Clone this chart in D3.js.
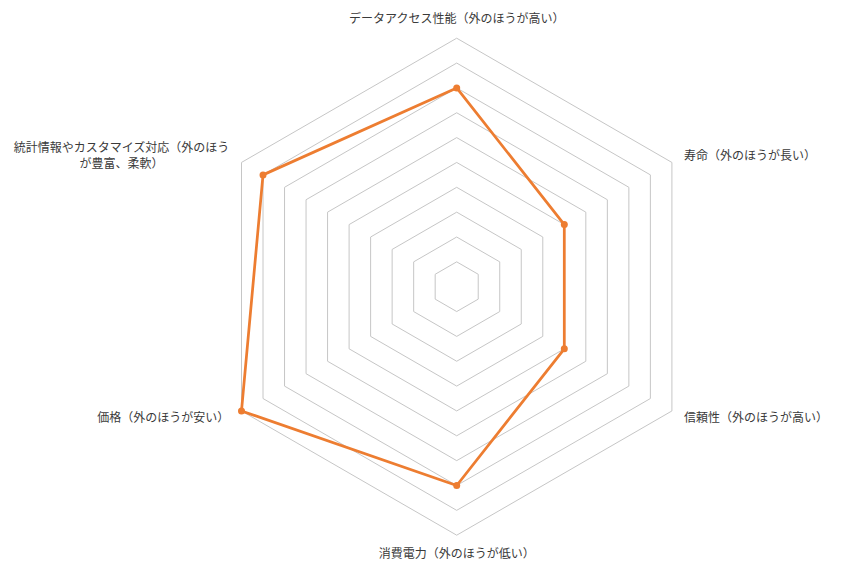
<!DOCTYPE html>
<html>
<head>
<meta charset="utf-8">
<script src="https://cdn.jsdelivr.net/npm/d3@7"></script>
<style>
  body { margin: 0; background: #fff; }
  svg { display: block; }
  text { font-family: "Noto Sans CJK JP", "Noto Sans", sans-serif; font-size: 12px; fill: #3a3a3a; }
</style>
</head>
<body>
<svg id="canvas" width="847" height="575"></svg>
<script>
// axes of the radar, clockwise from the top
let categories = [
  'データアクセス性能（外のほうが高い）',
  '寿命（外のほうが長い）',
  '信頼性（外のほうが高い）',
  '消費電力（外のほうが低い）',
  '価格（外のほうが安い）',
  '統計情報やカスタマイズ対応（外のほうが豊富、柔軟）'
]
let values = [8, 5, 5, 8, 10, 9]
let gridLevels = [1, 2, 3, 4, 5, 6, 7, 8, 9, 10]
let maxValue = 10

let canvas = d3.select('#canvas')

let cx = 456.7
let cy = 286.7
let radius = 248.5

let r = d3.scaleLinear().domain([0, maxValue]).range([0, radius])
let angle = d3.scaleLinear().domain([0, categories.length]).range([0, 2 * Math.PI])

let point = (i, v) => {
    let a = angle(i)
    return [cx + r(v) * Math.sin(a), cy - r(v) * Math.cos(a)]
}

// grid hexagons
let grid = canvas.append('g')
grid.selectAll('polygon')
    .data(gridLevels)
    .enter()
    .append('polygon')
    .attr('points', (lv) => categories.map((c, i) => point(i, lv).join(',')).join(' '))
    .attr('fill', 'none')
    .attr('stroke', '#c6c6c6')
    .attr('stroke-width', 1)

// series line
let line = d3.line().curve(d3.curveLinearClosed)
canvas.append('path')
    .datum(values.map((v, i) => point(i, v)))
    .attr('d', line)
    .attr('fill', 'none')
    .attr('stroke', '#ED7D31')
    .attr('stroke-width', 2.75)
    .attr('stroke-linejoin', 'round')

canvas.selectAll('circle.marker')
    .data(values)
    .enter()
    .append('circle')
    .attr('class', 'marker')
    .attr('cx', (v, i) => point(i, v)[0])
    .attr('cy', (v, i) => point(i, v)[1])
    .attr('r', 3.5)
    .attr('fill', '#ED7D31')

// category labels
let labels = canvas.append('g')
categories.forEach((c, i) => {
    let a = angle(i)
    let sx = Math.sin(a)
    let sideways = Math.abs(sx) > 0.1
    let off = sideways ? 14 : 19
    let lx = cx + (radius + off) * sx
    let ly = cy - (radius + off) * Math.cos(a)
    let t = labels.append('text')
        .attr('text-anchor', sideways ? (sx > 0 ? 'start' : 'end') : 'middle')

    let tmp = t.append('tspan').text(c)
    let w = tmp.node().getComputedTextLength()
    let room = sx < -0.1 ? lx - 8 : 847 - lx - 8
    if (!sideways || w <= room) {
        tmp.attr('x', lx).attr('y', ly).attr('dy', '0.35em')
        return
    }
    // wrap long label into lines that fit
    tmp.remove()
    let lines = []
    let cur = ''
    for (let ch of c) {
        tmp = t.append('tspan').text(cur + ch)
        if (tmp.node().getComputedTextLength() > room && cur) {
            lines.push(cur)
            cur = ch
        } else {
            cur = cur + ch
        }
        tmp.remove()
    }
    lines.push(cur)
    let widths = lines.map((s) => {
        let s1 = t.append('tspan').text(s)
        let ww = s1.node().getComputedTextLength()
        s1.remove()
        return ww
    })
    let maxW = d3.max(widths)
    let mid = sx < 0 ? lx - maxW / 2 : lx + maxW / 2
    let lh = 16
    t.attr('text-anchor', 'middle')
    lines.forEach((s, k) => {
        t.append('tspan')
            .attr('x', mid)
            .attr('y', ly + (k - (lines.length - 1) / 2) * lh)
            .attr('dy', '0.35em')
            .text(s)
    })
})
</script>
</body>
</html>
